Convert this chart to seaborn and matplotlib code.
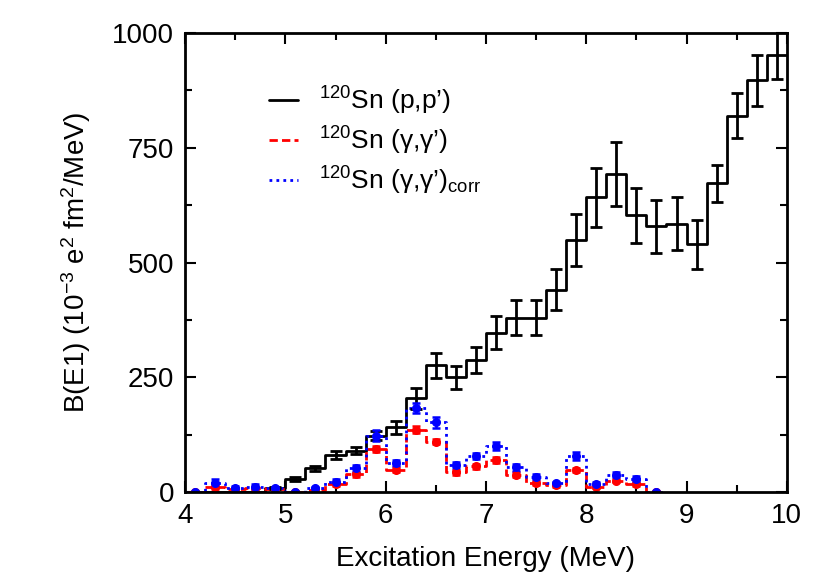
import numpy as np
import pandas as pd
import seaborn as sns
import matplotlib.pyplot as plt
from matplotlib.lines import Line2D
from matplotlib.ticker import MultipleLocator

# (p,p') histogram, 0.2 MeV bins from 4.0 to 10.0
pp_centers = [4.1, 4.3, 4.5, 4.7, 4.9, 5.1, 5.3, 5.5, 5.7, 5.9,
              6.1, 6.3, 6.5, 6.7, 6.9, 7.1, 7.3, 7.5, 7.7, 7.9,
              8.1, 8.3, 8.5, 8.7, 8.9, 9.1, 9.3, 9.5, 9.7, 9.9]
pp_vals = [0, 0, 0, 0, 9, 28, 52, 81, 90, 123,
           141, 204, 276, 250, 288, 347, 380, 380, 441, 549,
           642, 693, 603, 579, 585, 540, 673, 820, 897, 953]
pp_err = [0, 0, 0, 0, 3, 4, 5, 9, 8, 10,
          14, 22, 28, 25, 29, 36, 38, 38, 45, 56,
          65, 70, 60, 58, 58, 53, 40, 49, 55, 52]

# (gamma,gamma') histograms, 0.2 MeV bins from 4.0 to 8.8
gg_centers = [4.1, 4.3, 4.5, 4.7, 4.9, 5.1, 5.3, 5.5, 5.7, 5.9, 6.1, 6.3,
              6.5, 6.7, 6.9, 7.1, 7.3, 7.5, 7.7, 7.9, 8.1, 8.3, 8.5, 8.7]
gg_vals = [0, 12, 6, 9, 6, 0, 5, 18, 39, 94, 49, 136,
           110, 43, 56, 70, 38, 20, 15, 48, 12, 25, 17, 0]
gg_err = [2, 5, 3, 3, 3, 2, 3, 4, 5, 7, 5, 7,
          6, 5, 5, 6, 5, 4, 3, 5, 3, 4, 4, 2]
corr_vals = [0, 20, 9, 12, 8, 0, 8, 23, 52, 123, 63, 183,
             152, 59, 79, 101, 54, 34, 19, 79, 17, 38, 29, 0]
corr_err = [3, 8, 4, 5, 4, 3, 4, 6, 8, 12, 7, 11,
            12, 7, 7, 9, 7, 6, 4, 8, 4, 6, 6, 3]

pp = pd.DataFrame({"E": pp_centers, "B": pp_vals, "err": pp_err})
gg = pd.DataFrame({"E": gg_centers, "B": gg_vals, "err": gg_err,
                   "Bc": corr_vals, "errc": corr_err})

sns.set_theme(style="ticks")
plt.rcParams["font.family"] = ["Liberation Sans", "DejaVu Sans"]
plt.rcParams["mathtext.fontset"] = "custom"
plt.rcParams["mathtext.rm"] = "Liberation Sans"
plt.rcParams["mathtext.it"] = "Liberation Sans:italic"
for key in ["text.color", "axes.labelcolor", "xtick.color", "ytick.color"]:
    plt.rcParams[key] = "black"

fig, ax = plt.subplots(figsize=(8.3, 5.81), dpi=100)
fig.subplots_adjust(left=0.223, right=0.948, top=0.943, bottom=0.153)

pp_edges = [round(4.0 + 0.2 * i, 2) for i in range(31)]
gg_edges = [round(4.0 + 0.2 * i, 2) for i in range(25)]

sns.histplot(data=pp, x="E", weights="B", bins=pp_edges, element="step",
             fill=False, color="black", linewidth=2, ax=ax)
sns.histplot(data=gg, x="E", weights="B", bins=gg_edges, element="step",
             fill=False, color="red", linewidth=2, linestyle=(0, (3, 1.5)), ax=ax)
sns.histplot(data=gg, x="E", weights="Bc", bins=gg_edges, element="step",
             fill=False, color="blue", linewidth=2, linestyle=(0, (1, 1.5)), ax=ax)

m = pp["B"] > 0
ax.errorbar(pp.loc[m, "E"], pp.loc[m, "B"], yerr=pp.loc[m, "err"], fmt="none",
            ecolor="black", elinewidth=2, capsize=4, capthick=2)
ax.errorbar(gg["E"], gg["B"], yerr=gg["err"], fmt="o", color="red",
            markersize=5.5, elinewidth=1.8, capsize=3, capthick=1.8)
ax.errorbar(gg["E"], gg["Bc"], yerr=gg["errc"], fmt="o", color="blue",
            markersize=5.5, elinewidth=1.8, capsize=3, capthick=1.8)

ax.set_xlim(4, 10)
ax.set_ylim(0, 1000)
ax.xaxis.set_major_locator(MultipleLocator(1))
ax.xaxis.set_minor_locator(MultipleLocator(0.5))
ax.yaxis.set_major_locator(MultipleLocator(250))
ax.yaxis.set_minor_locator(MultipleLocator(125))
ax.tick_params(which="both", direction="in", top=True, right=True,
               width=1.5, labelsize=20, pad=8, colors="black")
ax.tick_params(which="major", length=8)
ax.tick_params(which="minor", length=5)
for s in ax.spines.values():
    s.set_linewidth(2)
    s.set_color("black")

ax.set_xlabel("Excitation Energy (MeV)", fontsize=20, labelpad=12)
ax.set_ylabel(r"B(E1) (10$^{-3}$ e$^2$ fm$^2$/MeV)", fontsize=20, labelpad=14)

handles = [Line2D([], [], color="black", lw=2),
           Line2D([], [], color="red", lw=2, ls=(0, (3, 1.5))),
           Line2D([], [], color="blue", lw=2, ls=(0, (1, 1.5)))]
labels = [r"$^{120}$Sn (p,p’)",
          r"$^{120}$Sn (γ,γ’)",
          r"$^{120}$Sn (γ,γ’)$_{\rm corr}$"]
ax.legend(handles, labels, loc="upper left", bbox_to_anchor=(0.1, 0.94),
          frameon=False, fontsize=19, handlelength=1.1, handletextpad=0.8,
          labelspacing=0.3)

fig.savefig("out.png", dpi=100)
